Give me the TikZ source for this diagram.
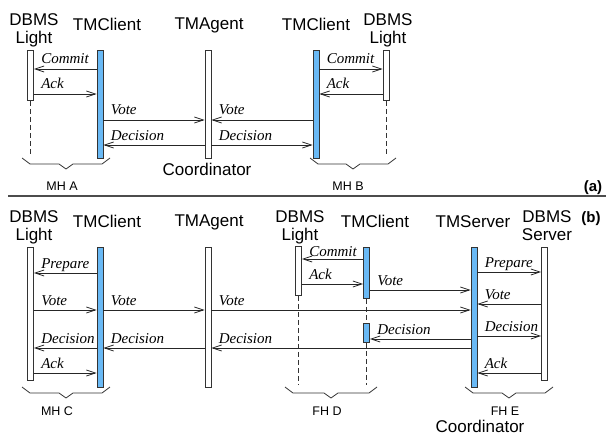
\documentclass[tikz,border=0pt]{standalone}
\usepackage{fontspec}
\setmainfont{Liberation Serif}
\setsansfont{Liberation Sans}
\usetikzlibrary{arrows.meta}
\definecolor{tmblau}{RGB}{105,185,245}
\tikzset{
  lebenslinie/.style={rectangle, draw=black!80, fill=white, line width=0.8pt, minimum width=6pt, inner sep=0pt, anchor=north},
  tmlinie/.style={lebenslinie, fill=tmblau},
  titel/.style={font=\sffamily\fontsize{17}{18}\selectfont, align=center, inner sep=0pt, anchor=north},
  klein/.style={font=\sffamily\fontsize{12.5}{14}\selectfont, inner sep=0pt},
  teil/.style={font=\sffamily\bfseries\fontsize{15}{17}\selectfont, inner sep=0pt},
  nachricht/.style={draw=black!85, line width=0.8pt, -{Straight Barb[length=9pt,width=6pt]}},
  txt/.style={font=\fontsize{15}{17}\selectfont\itshape, anchor=base west, inner sep=0pt, xshift=7pt, yshift=5pt},
  gestrichelt/.style={draw=black!80, line width=0.8pt, dash pattern=on 5pt off 3pt},
  klammer/.style={draw=black!80, line width=0.8pt}
}
\newcommand{\klammer}[3]{% x1, x2, y
  \draw[klammer] (#1,#3) -- ++(8,6) -- ({(#1+#2)/2-7},#3+6) -- ({(#1+#2)/2},#3+11)
    -- ({(#1+#2)/2+7},#3+6) -- (#2-8,#3+6) -- (#2,#3);}
\begin{document}
\begin{tikzpicture}[x=1pt, y=-1pt]
  \useasboundingbox (0,0) rectangle (606,436);

  % Teil (a): Titel
  \node[titel] (tDbmsA) at (34,13) {DBMS\\Light};
  \node[titel] (tCliA) at (107,18) {TMClient};
  \node[titel] (tAgentA) at (209,18) {TMAgent};
  \node[titel] (tCliB) at (316,18) {TMClient};
  \node[titel] (tDbmsB) at (388,13) {DBMS\\Light};

  % Teil (a): Lebenslinien
  \node[lebenslinie, minimum height=50pt] (dbmsA) at (30.5,50) {};
  \node[tmlinie, minimum height=108pt] (cliA) at (100,50) {};
  \node[lebenslinie, minimum height=108pt] (agentA) at (208,50) {};
  \node[tmlinie, minimum height=108pt] (cliB) at (316,50) {};
  \node[lebenslinie, minimum height=50pt] (dbmsB) at (386,50) {};
  \draw[gestrichelt] (dbmsA.south) -- (dbmsA.south |- 0,155);
  \draw[gestrichelt] (dbmsB.south) -- (dbmsB.south |- 0,155);

  % Teil (a): Nachrichten
  \draw[nachricht] (cliA.west |- 0,69) -- (dbmsA.east |- 0,69) node[txt] {Commit};
  \draw[nachricht] (dbmsA.east |- 0,94) -- node[txt, pos=0] {Ack} (cliA.west |- 0,94);
  \draw[nachricht] (cliA.east |- 0,120) -- node[txt, pos=0] {Vote} (agentA.west |- 0,120);
  \draw[nachricht] (cliB.west |- 0,120) -- (agentA.east |- 0,120) node[txt] {Vote};
  \draw[nachricht] (agentA.west |- 0,145) -- (cliA.east |- 0,145) node[txt] {Decision};
  \draw[nachricht] (agentA.east |- 0,145) -- node[txt, pos=0] {Decision} (cliB.west |- 0,145);
  \draw[nachricht] (cliB.east |- 0,69) -- node[txt, pos=0] {Commit} (dbmsB.west |- 0,69);
  \draw[nachricht] (dbmsB.west |- 0,94) -- (cliB.east |- 0,94) node[txt] {Ack};

  % Teil (a): Klammern
  \klammer{22}{110}{158}
  \klammer{310}{396}{158}
  \node[klein] (mhA) at (62,186) {MH A};
  \node[klein] (mhB) at (348,186) {MH B};
  \node[titel] (koordA) at (207,163) {Coordinator};
  \node[teil] (labelA) at (593,188) {(a)};

  % Trennlinie
  \draw[draw=black!70, line width=1.2pt] (8,196) -- (606,196);

  % Teil (b): Titel
  \node[titel] (tDbmsC) at (34,210) {DBMS\\Light};
  \node[titel] (tCliC) at (107,215) {TMClient};
  \node[titel] (tAgentC) at (209,215) {TMAgent};
  \node[titel] (tDbmsD) at (300,210) {DBMS\\Light};
  \node[titel] (tCliD) at (375,215) {TMClient};
  \node[titel] (tSrvE) at (473,215) {TMServer};
  \node[titel] (tDbmsE) at (547,210) {DBMS\\Server};
  \node[teil] (labelB) at (591,219) {(b)};

  % Teil (b): Lebenslinien
  \node[lebenslinie, minimum height=133pt] (dbmsC) at (30.5,247) {};
  \node[tmlinie, minimum height=140pt] (cliC) at (100,247) {};
  \node[lebenslinie, minimum height=140pt] (agentC) at (208,247) {};
  \node[lebenslinie, minimum height=49pt] (dbmsD) at (298.5,246) {};
  \node[tmlinie, minimum height=51pt] (cliD) at (366.5,247) {};
  \node[tmlinie, minimum height=19pt] (cliD2) at (366.5,323) {};
  \node[tmlinie, minimum height=140pt] (srvE) at (474,247) {};
  \node[lebenslinie, minimum height=133pt] (dbmsE) at (544.5,247) {};
  \draw[gestrichelt] (dbmsD.south) -- (dbmsD.south |- 0,385);
  \draw[gestrichelt] (cliD.south) -- (cliD2.north);
  \draw[gestrichelt] (cliD2.south) -- (cliD2.south |- 0,385);

  % Teil (b): Nachrichten
  \draw[nachricht] (cliC.west |- 0,273) -- (dbmsC.east |- 0,273) node[txt] {Prepare};
  \draw[nachricht] (dbmsC.east |- 0,310) -- node[txt, pos=0] {Vote} (cliC.west |- 0,310);
  \draw[nachricht] (cliC.east |- 0,310) -- node[txt, pos=0] {Vote} (agentC.west |- 0,310);
  \draw[nachricht] (agentC.east |- 0,310) -- node[txt, pos=0] {Vote} (srvE.west |- 0,310);
  \draw[nachricht] (cliC.west |- 0,348) -- (dbmsC.east |- 0,348) node[txt] {Decision};
  \draw[nachricht] (agentC.west |- 0,348) -- (cliC.east |- 0,348) node[txt] {Decision};
  \draw[nachricht] (srvE.west |- 0,348) -- (agentC.east |- 0,348) node[txt] {Decision};
  \draw[nachricht] (dbmsC.east |- 0,373) -- node[txt, pos=0] {Ack} (cliC.west |- 0,373);
  \draw[nachricht] (cliD.west |- 0,259) -- (dbmsD.east |- 0,259) node[txt, yshift=-2pt] {Commit};
  \draw[nachricht] (dbmsD.east |- 0,284) -- node[txt, pos=0] {Ack} (cliD.west |- 0,284);
  \draw[nachricht] (cliD.east |- 0,290) -- node[txt, pos=0] {Vote} (srvE.west |- 0,290);
  \draw[nachricht] (srvE.west |- 0,339) -- (cliD2.east |- 0,339) node[txt] {Decision};
  \draw[nachricht] (srvE.east |- 0,272) -- node[txt, pos=0] {Prepare} (dbmsE.west |- 0,272);
  \draw[nachricht] (dbmsE.west |- 0,304) -- (srvE.east |- 0,304) node[txt] {Vote};
  \draw[nachricht] (srvE.east |- 0,336) -- node[txt, pos=0] {Decision} (dbmsE.west |- 0,336);
  \draw[nachricht] (dbmsE.west |- 0,373) -- (srvE.east |- 0,373) node[txt] {Ack};

  % Teil (b): Klammern
  \klammer{22}{110}{387}
  \klammer{285}{377}{387}
  \klammer{465}{553}{387}
  \node[klein] (mhC) at (57,411) {MH C};
  \node[klein] (fhD) at (327,411) {FH D};
  \node[klein] (fhE) at (505,411) {FH E};
  \node[titel] (koordB) at (480,420) {Coordinator};
\end{tikzpicture}
\end{document}
